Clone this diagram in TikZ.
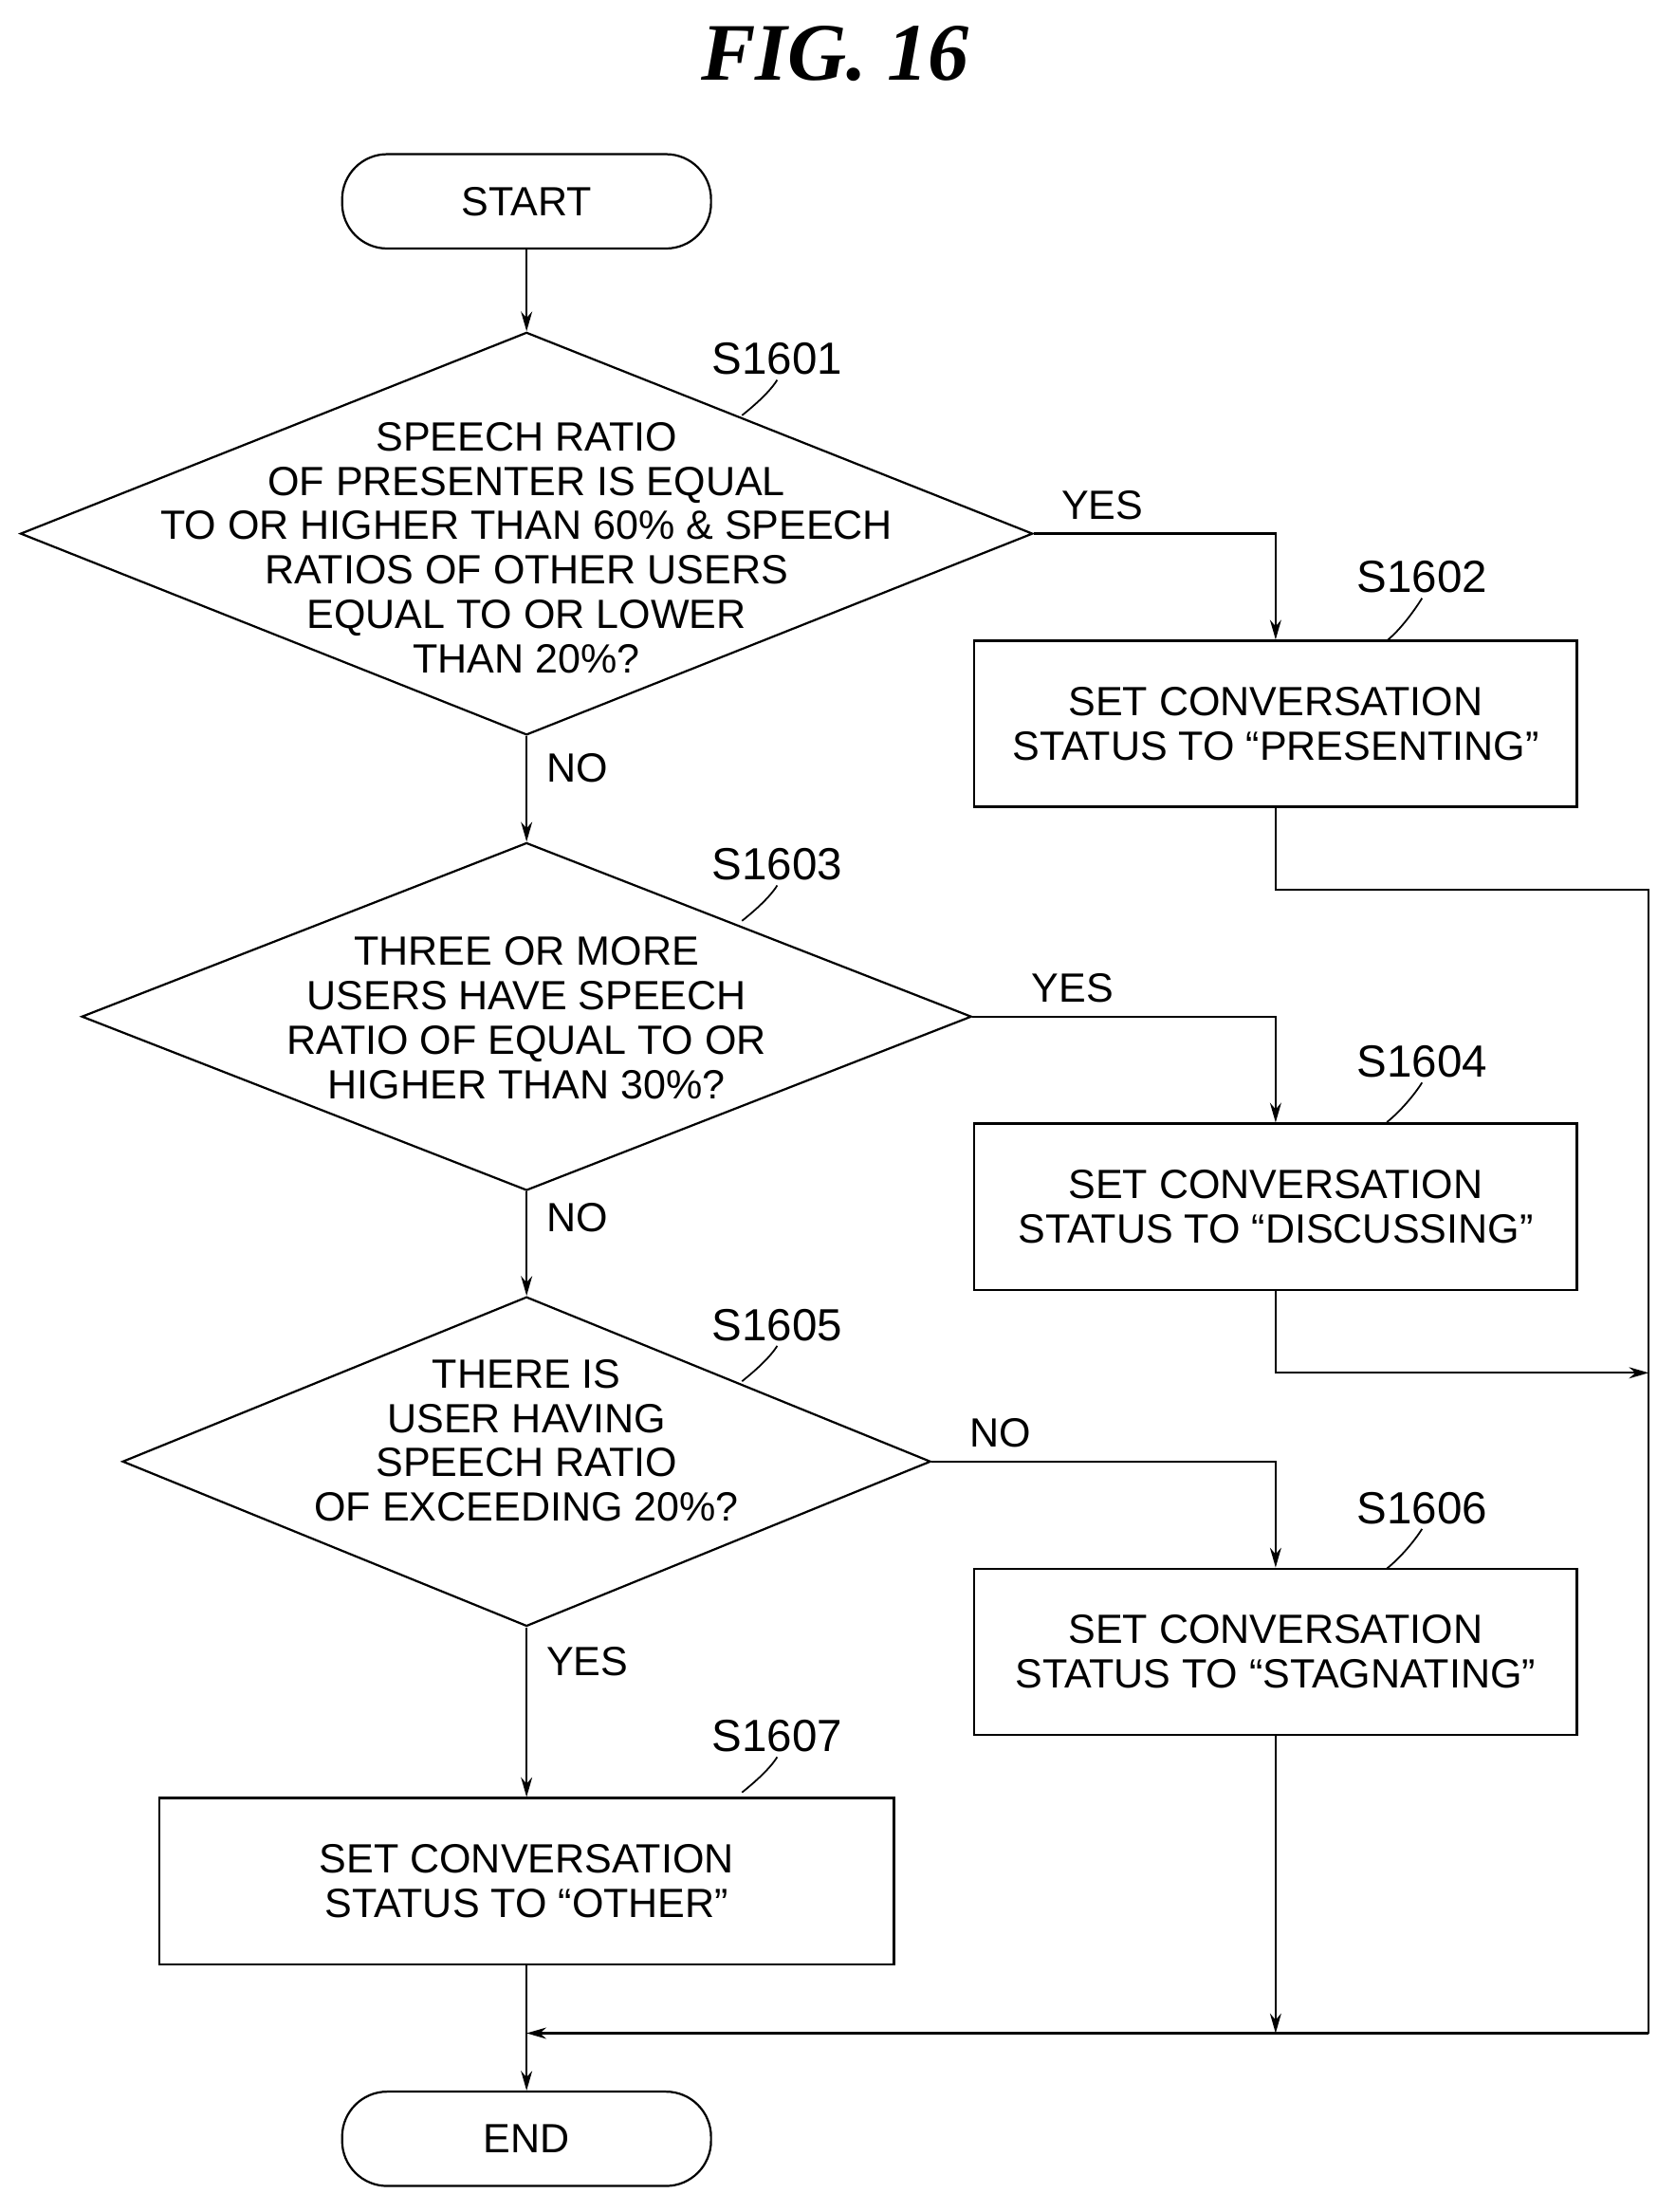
\documentclass[tikz,border=0pt]{standalone}
\usepackage{fontspec}
\setmainfont{Liberation Sans}
\newfontfamily\titlefont{Liberation Serif}
\usetikzlibrary{shapes.geometric,arrows.meta}
\begin{document}
\begin{tikzpicture}[x=1pt,y=-1pt,
  every node/.style={font=\fontsize{29}{31.5}\selectfont},
  term/.style={draw, line width=1.5pt, rounded corners=32pt, minimum width=262pt, minimum height=67pt, inner sep=0pt},
  proc/.style={draw, line width=1.5pt, minimum width=428pt, minimum height=118pt, inner sep=0pt, align=center},
  dec/.style={draw, line width=1.5pt, diamond, inner sep=0pt},
  txt/.style={align=center, inner sep=0pt},
  steplbl/.style={font=\fontsize{32}{32}\selectfont},
  line/.style={draw, line width=1.5pt, -{Stealth[length=14pt,width=8pt]}},
  bus/.style={draw, line width=1.5pt}]
\useasboundingbox (0,0) rectangle (1190,1571);

\node[font=\titlefont\bfseries\itshape\fontsize{58}{58}\selectfont] (title) at (593,38) {FIG. 16};

% Terminals
\node[term] (start) at (374,143) {START};
\node[term] (end) at (374,1519) {END};

% Decisions
\node[dec, minimum width=719pt, minimum height=286pt] (d1) at (374,379) {};
\node[txt] at (374,389) {SPEECH RATIO\\OF PRESENTER IS EQUAL\\TO OR HIGHER THAN 60\% \& SPEECH\\RATIOS OF OTHER USERS\\EQUAL TO OR LOWER\\THAN 20\%?};
\node[dec, minimum width=632pt, minimum height=247pt] (d2) at (374,722) {};
\node[txt] at (374,723) {THREE OR MORE\\USERS HAVE SPEECH\\RATIO OF EQUAL TO OR\\HIGHER THAN 30\%?};
\node[dec, minimum width=574pt, minimum height=234pt] (d3) at (374,1038) {};
\node[txt] at (374,1023) {THERE IS\\USER HAVING\\SPEECH RATIO\\OF EXCEEDING 20\%?};

% Processes
\node[proc] (s1602) at (906,514) {SET CONVERSATION\\STATUS TO “PRESENTING”};
\node[proc] (s1604) at (906,857) {SET CONVERSATION\\STATUS TO “DISCUSSING”};
\node[proc] (s1606) at (906,1173) {SET CONVERSATION\\STATUS TO “STAGNATING”};
\node[proc, minimum width=522pt] (s1607) at (374,1336) {SET CONVERSATION\\STATUS TO “OTHER”};

% Step labels
\node[steplbl] (l1601) at (552,255) {S1601};
\node[steplbl] (l1602) at (1010,410) {S1602};
\node[steplbl] (l1603) at (552,614) {S1603};
\node[steplbl] (l1604) at (1010,754) {S1604};
\node[steplbl] (l1605) at (552,941) {S1605};
\node[steplbl] (l1606) at (1010,1071) {S1606};
\node[steplbl] (l1607) at (552,1233) {S1607};
\foreach \l/\x/\y in {l1601/527/295, l1603/527/654, l1605/527/981, l1607/527/1273, l1602/985/455, l1604/985/797, l1606/985/1114}
  \draw[line width=1.2pt] (\l.south) .. controls +(-5,8) and +(10,-8) .. (\x,\y);

% Bus
\coordinate (c1) at (1171,632);
\coordinate (c2) at (1171,975);
\coordinate (c3) at (1171,1444);
\coordinate (j1) at (374,1444);

% Connectors
\draw[line] (start) -- (d1);
\draw[line] (d1.east) -| node[pos=0.2, above, xshift=-20pt, yshift=6pt] {YES} (s1602);
\draw[line] (d1) -- node[pos=0.3, right, xshift=10pt] {NO} (d2);
\draw[line] (d2.east) -| node[pos=0.2, above, xshift=-15pt, yshift=6pt] {YES} (s1604);
\draw[line] (d2) -- node[pos=0.25, right, xshift=10pt] {NO} (d3);
\draw[line] (d3.east) -| node[pos=0.12, above, xshift=-10pt, yshift=6pt] {NO} (s1606);
\draw[line] (d3) -- node[pos=0.2, right, xshift=10pt] {YES} (s1607);
\draw[bus] (s1602.south) |- (c1) -- (c3);
\draw[line] (s1604.south) |- (c2);
\draw[line] (s1606.south) -- (s1606.south |- c3);
\draw[line] (c3) -- (j1);
\draw[line] (s1607) -- (end);
\end{tikzpicture}
\end{document}
